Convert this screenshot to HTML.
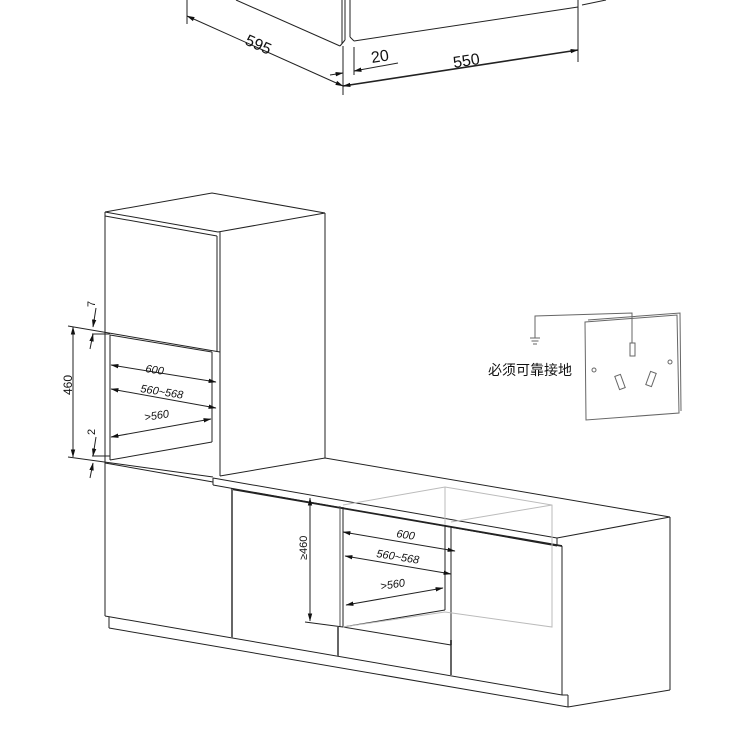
<!DOCTYPE html>
<html><head><meta charset="utf-8"><style>
html,body{margin:0;padding:0;background:#fff}
svg{display:block}
text{font-family:"Liberation Sans","Noto Sans CJK SC",sans-serif;fill:#111}
</style></head><body>
<svg width="750" height="740" viewBox="0 0 750 740" xmlns="http://www.w3.org/2000/svg">
<defs>
<marker id="a" markerWidth="8" markerHeight="6" refX="7.5" refY="3" orient="auto" markerUnits="userSpaceOnUse"><path d="M0,0.8 L8,3 L0,5.2z" fill="#111"/></marker>
<marker id="b" markerWidth="8" markerHeight="6" refX="0.5" refY="3" orient="auto" markerUnits="userSpaceOnUse"><path d="M8,0.8 L0,3 L8,5.2z" fill="#111"/></marker>
</defs>
<g fill="none" stroke="#222" stroke-width="1">
<!-- top drawing -->
<line x1="187" y1="0" x2="187" y2="24"/>
<line x1="236" y1="0" x2="340" y2="46"/>
<line x1="342" y1="0" x2="342" y2="44"/>
<line x1="345" y1="0" x2="345" y2="40"/>
<line x1="350" y1="0" x2="350" y2="37"/>
<line x1="345" y1="40" x2="340" y2="46"/>
<line x1="350" y1="37" x2="354" y2="41"/>
<line x1="354" y1="41" x2="578" y2="7"/>
<line x1="578" y1="0" x2="578" y2="62"/>
<line x1="582" y1="5" x2="606" y2="0"/>
<line x1="187" y1="16" x2="343" y2="86" marker-start="url(#b)" marker-end="url(#a)"/>
<line x1="343" y1="46" x2="343" y2="95"/>
<line x1="354" y1="47" x2="354" y2="75"/>
<line x1="330" y1="75" x2="343" y2="73" marker-end="url(#a)"/>
<line x1="354" y1="71" x2="398" y2="63" marker-start="url(#b)"/>
<line x1="343" y1="86" x2="578" y2="50" stroke-width="1.6" marker-start="url(#b)" marker-end="url(#a)"/>
</g>
<text x="0" y="0" font-size="16" transform="translate(244,44) rotate(24)">595</text>
<text x="372" y="63" font-size="16" transform="rotate(-9 372 63)">20</text>
<text x="454" y="68" font-size="16" transform="rotate(-9 454 68)">550</text>

<g fill="none" stroke="#222" stroke-width="1">
<!-- tall cabinet -->
<polyline points="105,212 212,193 325,213"/>
<line x1="105" y1="212" x2="218" y2="232"/>
<line x1="105" y1="216" x2="217" y2="236"/>
<line x1="218" y1="232" x2="325" y2="213"/>
<line x1="220" y1="232" x2="220" y2="476"/>
<line x1="217" y1="236" x2="217" y2="352"/>
<line x1="325" y1="213" x2="325" y2="458"/>
<line x1="105" y1="212" x2="105" y2="616"/>
<line x1="68" y1="326" x2="220" y2="352"/>
<line x1="110" y1="335" x2="212" y2="352"/>
<line x1="110" y1="335" x2="110" y2="460"/>
<line x1="212" y1="352" x2="212" y2="442"/>
<line x1="110" y1="460" x2="212" y2="442"/>
<line x1="68" y1="457" x2="213" y2="477"/>
<line x1="105" y1="463" x2="213" y2="482"/>
<line x1="73" y1="327" x2="73" y2="457" marker-start="url(#b)" marker-end="url(#a)"/>
<line x1="96" y1="308" x2="93" y2="327" marker-end="url(#a)"/>
<line x1="90" y1="349" x2="93" y2="334" marker-end="url(#a)"/>
<line x1="96" y1="437" x2="93" y2="456" marker-end="url(#a)"/>
<line x1="90" y1="478" x2="93" y2="463" marker-end="url(#a)"/>
<line x1="92" y1="334" x2="110" y2="334"/>
<line x1="92" y1="456" x2="110" y2="456"/>
<line x1="111" y1="365" x2="216" y2="382" marker-start="url(#b)" marker-end="url(#a)"/>
<line x1="111" y1="389" x2="216" y2="408" marker-start="url(#b)" marker-end="url(#a)"/>
<line x1="111" y1="437" x2="211" y2="419" marker-start="url(#b)" marker-end="url(#a)"/>

<!-- counter -->
<polyline points="220,476 325,458 670,517"/>
<line x1="213" y1="478" x2="557" y2="538"/>
<line x1="213" y1="478" x2="213" y2="485"/>
<line x1="213" y1="485" x2="557" y2="546"/>
<line x1="557" y1="538" x2="670" y2="517"/>
<line x1="557" y1="538" x2="557" y2="546"/>
<line x1="231" y1="489" x2="562" y2="546" stroke-width="1.8"/>
<line x1="670" y1="517" x2="670" y2="690"/>
<line x1="562" y1="546" x2="562" y2="695"/>
<line x1="568" y1="707" x2="670" y2="690"/>
<line x1="568" y1="695" x2="568" y2="707"/>
<line x1="562" y1="695" x2="568" y2="695"/>
<!-- lower cabinets -->
<line x1="105" y1="616" x2="562" y2="695"/>
<line x1="109" y1="617" x2="109" y2="628"/>
<line x1="109" y1="628" x2="568" y2="707"/>
<line x1="232" y1="489" x2="232" y2="638" stroke="#666" stroke-width="2"/>
<line x1="338" y1="627" x2="338" y2="656" stroke="#666" stroke-width="2"/>
<line x1="451" y1="640" x2="451" y2="675" stroke="#666" stroke-width="2"/>
<!-- niche -->
<line x1="340" y1="506" x2="340" y2="627" stroke="#555"/>
<line x1="343" y1="507" x2="343" y2="627"/>
<line x1="305" y1="622" x2="343" y2="627"/>
<line x1="343" y1="627" x2="445" y2="610"/>
<line x1="343" y1="627" x2="451" y2="645"/>
<line x1="445" y1="525" x2="445" y2="610"/>
<line x1="451" y1="526" x2="451" y2="645"/>
<line x1="310" y1="498" x2="310" y2="621" marker-start="url(#b)" marker-end="url(#a)"/>
<line x1="343" y1="532" x2="455" y2="551" marker-start="url(#b)" marker-end="url(#a)"/>
<line x1="345" y1="556" x2="451" y2="574" marker-start="url(#b)" marker-end="url(#a)"/>
<line x1="346" y1="605" x2="443" y2="588" marker-start="url(#b)" marker-end="url(#a)"/>
</g>
<g fill="none" stroke="#bbb" stroke-width="1">
<polyline points="343,505 445,487 552,505 552,627 445,612 343,627"/>
<line x1="445" y1="487" x2="445" y2="525"/>
<line x1="451" y1="522" x2="552" y2="505"/>
</g>
<text x="0" y="0" font-size="11" font-style="italic" transform="translate(145,372) rotate(9)">600</text>
<text x="0" y="0" font-size="11" font-style="italic" transform="translate(140,392) rotate(9)">560~568</text>
<text x="0" y="0" font-size="11" font-style="italic" transform="translate(145,421) rotate(-9)">&gt;560</text>
<text x="0" y="0" font-size="12" transform="translate(72,395) rotate(-90)">460</text>
<text x="0" y="0" font-size="11" transform="translate(95,307) rotate(-90)">7</text>
<text x="0" y="0" font-size="11" transform="translate(95,435) rotate(-90)">2</text>
<text x="0" y="0" font-size="11" font-style="italic" transform="translate(396,537) rotate(9)">600</text>
<text x="0" y="0" font-size="11" font-style="italic" transform="translate(376,557) rotate(9)">560~568</text>
<text x="0" y="0" font-size="11" font-style="italic" transform="translate(381,590) rotate(-9)">&gt;560</text>
<text x="0" y="0" font-size="11" transform="translate(307,560) rotate(-90)">≥460</text>

<!-- socket -->
<g fill="none" stroke="#666" stroke-width="1">
<polyline points="535,338 535,316 632,313 632,343"/>
<rect x="630" y="343" width="5" height="13"/>
<line x1="530" y1="338" x2="540" y2="338"/>
<line x1="531.5" y1="341" x2="538.5" y2="341"/>
<line x1="533" y1="344" x2="537" y2="344"/>
<path d="M585,322 L677,315 L679,413 L586,420 Z"/>
<path d="M588,320 L680,313 L681,411"/>
<circle cx="594" cy="370" r="2"/>
<circle cx="670" cy="362" r="2"/>
<rect x="617" y="375" width="6" height="14" transform="rotate(-20 620 382)"/>
<rect x="648" y="372" width="6" height="14" transform="rotate(20 651 379)"/>
</g>
<text x="488" y="375" font-size="14" fill="#222">必须可靠接地</text>
</svg>
</body></html>
